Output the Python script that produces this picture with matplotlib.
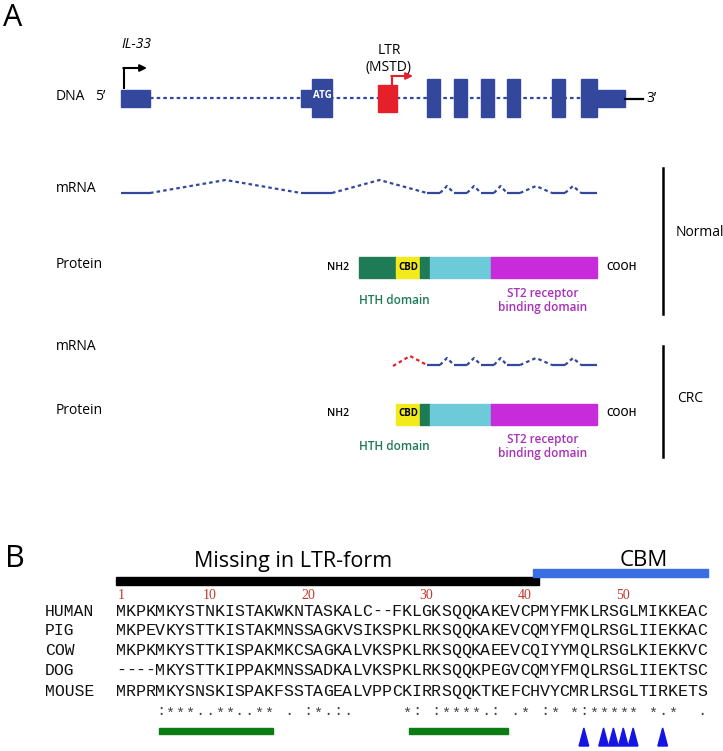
import matplotlib
matplotlib.use('Agg')
import matplotlib.pyplot as plt
from matplotlib.patches import Rectangle, Polygon

# ---------------- data : panel A (gene track coordinates) ----------------
dna_utr_exons = [(121, 150), (301, 312), (597, 625)]
dna_cds_exons = [(312, 332), (427, 440), (454, 467), (481, 494),
                 (507, 520), (552, 565), (581, 597)]
ltr_element = (378, 397)
normal_mrna_exons = [(121, 150), (301, 332), (427, 440), (454, 467),
                     (481, 494), (507, 520), (552, 565), (581, 597)]
normal_junction_heights = [13, 13, 7, 7, 7, 7, 7]
crc_mrna_start = 393
crc_mrna_exons = [(427, 440), (454, 467), (481, 494), (507, 520),
                  (552, 565), (581, 597)]
crc_junction_heights = [7, 7, 7, 7, 7]
normal_domains = [(359, 396, 'HTH'), (396, 420, 'CBD'), (420, 430, 'HTH'),
                  (430, 491, 'mid'), (491, 597, 'ST2')]
crc_domains = [(396, 420, 'CBD'), (420, 430, 'HTH'),
               (430, 491, 'mid'), (491, 597, 'ST2')]

# ---------------- data : panel B (alignment) ----------------
species = ["HUMAN", "PIG", "COW", "DOG", "MOUSE"]
sequences = [
    "MKPKMKYSTNKISTAKWKNTASKALC--FKLGKSQQKAKEVCPMYFMKLRSGLMIKKEAC",
    "MKPEVKYSTTKISTAKMNSSAGKVSIKSPKLRKSQQKAKEVCQMYFMQLRSGLIIEKKAC",
    "MKPKMKYSTTKISPAKMKCSAGKALVKSPKLRKSQQKAEEVCQIYYMQLRSGLKIEKKVC",
    "----MKYSTTKIPPAKMNSSADKALVKSPKLRKSQQKPEGVCQMYFMQLRSGLIIEKTSC",
    "MRPRMKYSNSKISPAKFSSTAGEALVPPCKIRRSQQKTKEFCHVYCMRLRSGLTIRKETS",
]
consensus = ("    " + ":***..**..**" + " " + "." + " " + ":*.:." + "     " + "*:" + " "
             + ":****.:" + " " + ".*" + " " + ":*" + " " + "*:*****" + " " + "*.*" + "  " + ".")
residue_numbers = [1, 10, 20, 30, 40, 50]
residue_columns = [1, 10, 20, 32, 42, 52]
triangle_columns = [48, 50, 51, 52, 53, 56]
green_bar_spans = [(4.35, 15.9), (29.75, 39.8)]
missing_span = (0.0, 42.95)
cbm_span = (42.3, 60.1)

# ---------------- style ----------------
BLUE = '#33489c'
RED = '#e5202a'
DKGREEN = '#1f7b55'
YELLOW = '#f3ea1c'
CYAN = '#6dcad9'
MAGENTA = '#c82bd9'
domain_colors = {'HTH': DKGREEN, 'CBD': YELLOW, 'mid': CYAN, 'ST2': MAGENTA}
SANS = ['Open Sans', 'DejaVu Sans']
MONO = ['Liberation Mono', 'DejaVu Sans Mono']

fig = plt.figure(figsize=(7.23, 7.51), dpi=100)
ax = fig.add_axes([0, 0, 1, 1])
ax.set_xlim(0, 723)
ax.set_ylim(751, 0)
ax.axis('off')


def txt(x, y, s, size, **kw):
    kw.setdefault('family', SANS)
    kw.setdefault('va', 'center')
    ax.text(x, y, s, fontsize=size, **kw)


# ---- Panel A ----
txt(3, 18, 'A', 22)
txt(121, 45, 'IL-33', 10, style='italic')

DNA_Y = 98
ax.plot([150, 581], [DNA_Y, DNA_Y], color=BLUE, lw=1.6, ls=(0, (1.6, 1.4)), zorder=1)
for a, b in dna_utr_exons:
    ax.add_patch(Rectangle((a, DNA_Y - 8.5), b - a, 17, color=BLUE, zorder=2))
for a, b in dna_cds_exons:
    ax.add_patch(Rectangle((a, DNA_Y - 19), b - a, 38, color=BLUE, zorder=2))
ax.add_patch(Rectangle((ltr_element[0], DNA_Y - 13.5), ltr_element[1] - ltr_element[0], 27,
                       color=RED, zorder=2))
txt(322, 96, 'ATG', 7, color='white', ha='center', weight='bold', zorder=3)
ax.plot([625, 643], [DNA_Y + 1, DNA_Y + 1], color='black', lw=1.6)
txt(646, DNA_Y, "3’", 10)
txt(56, DNA_Y - 1, 'DNA', 10)
txt(95, DNA_Y - 1, "5’", 10)

# TSS arrows
ax.plot([124, 124], [89, 68], color='black', lw=1.5, solid_capstyle='butt')
ax.annotate('', xy=(147, 68), xytext=(123.3, 68),
            arrowprops=dict(arrowstyle='-|>', color='black', lw=1.5,
                            mutation_scale=10, shrinkA=0, shrinkB=0))
ax.plot([392, 392], [85, 76], color=RED, lw=1.5, solid_capstyle='butt')
ax.annotate('', xy=(413, 76), xytext=(391.3, 76),
            arrowprops=dict(arrowstyle='-|>', color=RED, lw=1.5,
                            mutation_scale=10, shrinkA=0, shrinkB=0))
txt(389, 50, 'LTR', 10, ha='center')
txt(388, 67, '(MSTD)', 10, ha='center')


def draw_mrna(y, exons, heights, start=None):
    for a, b in exons:
        ax.plot([a, b], [y, y], color=BLUE, lw=1.6, solid_capstyle='butt')
    for i in range(len(exons) - 1):
        a = exons[i][1]
        b = exons[i + 1][0]
        m = (a + b) / 2
        ax.plot([a, m, b], [y, y - heights[i], y], color=BLUE, lw=1.6,
                ls=(0, (1.6, 1.4)))
    if start is not None:
        b = exons[0][0]
        m = (start + b) / 2
        ax.plot([start, m, b], [y + 1, y - 9, y], color=RED, lw=1.6,
                ls=(0, (1.6, 1.4)))


def draw_protein(yc, domains):
    for a, b, d in domains:
        ax.add_patch(Rectangle((a, yc - 10.5), b - a, 21, color=domain_colors[d]))
        if d == 'CBD':
            txt((a + b) / 2, yc, 'CBD', 7, ha='center', weight='bold')
    txt(349, yc, 'NH2', 7.5, ha='right', weight='semibold')
    txt(606, yc, 'COOH', 7.5, ha='left', weight='semibold')
    txt(394, yc + 33, 'HTH domain', 8.5, ha='center', color=DKGREEN, weight='semibold')
    txt(543, yc + 26, 'ST2 receptor', 8.5, ha='center', color='#a82fb8', weight='semibold')
    txt(543, yc + 40, 'binding domain', 8.5, ha='center', color='#a82fb8', weight='semibold')


# Normal
txt(56, 188, 'mRNA', 10)
draw_mrna(193, normal_mrna_exons, normal_junction_heights)
txt(56, 264, 'Protein', 10)
draw_protein(267.5, normal_domains)
ax.plot([663, 663], [168, 314], color='black', lw=1.8)
txt(676, 233, 'Normal', 10)

# CRC
txt(56, 346, 'mRNA', 10)
draw_mrna(365, crc_mrna_exons, crc_junction_heights, start=crc_mrna_start)
txt(56, 411, 'Protein', 10)
draw_protein(414, crc_domains)
ax.plot([663, 663], [346, 457], color='black', lw=1.8)
txt(677, 398, 'CRC', 10)

# ---- Panel B ----
X0, CW = 116.0, 9.85


def colx(c):  # 1-based column centre
    return X0 + (c - 0.5) * CW


txt(5, 559, 'B', 22)
txt(293, 561, 'Missing in LTR-form', 15.5, ha='center')
txt(644, 560, 'CBM', 16, ha='center')
ax.add_patch(Rectangle((X0 + missing_span[0] * CW, 577),
                       (missing_span[1] - missing_span[0]) * CW, 8, color='black'))
ax.add_patch(Rectangle((X0 + cbm_span[0] * CW, 569),
                       (cbm_span[1] - cbm_span[0]) * CW, 7.5, color='#3a6fe3'))

for n, c in zip(residue_numbers, residue_columns):
    ax.text(colx(c), 599, str(n), fontsize=10, color='#c0392b', ha='center',
            va='baseline', family=['Liberation Serif', 'DejaVu Serif'])

row_y = [616, 635, 655, 675, 696]
for name, seq, y in zip(species, sequences, row_y):
    ax.text(45, y, name, fontsize=11.8, family=MONO, va='baseline', ha='left', color='#111111')
    for i, ch in enumerate(seq):
        ax.text(colx(i + 1), y, ch, fontsize=12, family=MONO, va='baseline',
                ha='center', color='#111111')

for i, ch in enumerate(consensus):
    if ch == ' ':
        continue
    dy = 3 if ch == '*' else 0
    ax.text(colx(i + 1), 715 + dy, ch, fontsize=11, family=MONO, va='baseline',
            ha='center', color='#444444')

for a, b in green_bar_spans:
    ax.add_patch(Rectangle((X0 + a * CW, 728), (b - a) * CW, 5.5, color='#0b7d12'))

for c in triangle_columns:
    x = colx(c)
    ax.add_patch(Polygon([[x - 4.8, 746], [x + 4.8, 746], [x, 728]], closed=True,
                         color='#1414e6'))

fig.savefig('out.png', dpi=100)
